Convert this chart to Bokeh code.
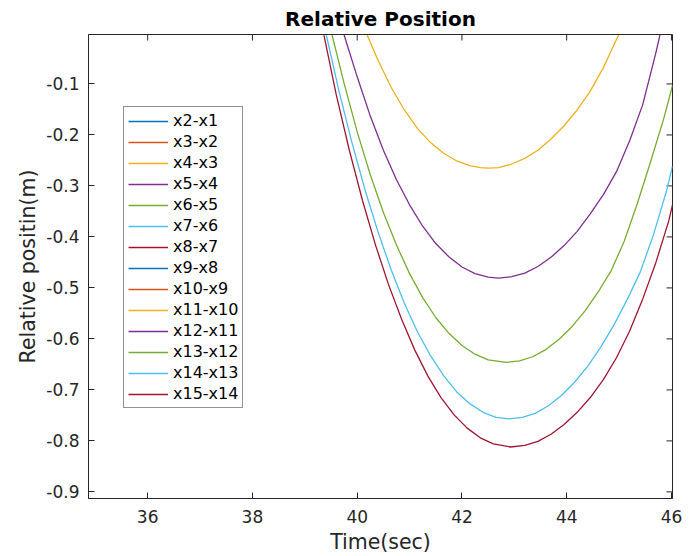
from bokeh.plotting import figure
from bokeh.models import (Range1d, FixedTicker, Legend, LegendItem, NumeralTickFormatter)
from bokeh.embed import file_html
from bokeh.resources import INLINE

# ---- data ----
series_names = ["x2-x1", "x3-x2", "x4-x3", "x5-x4", "x6-x5", "x7-x6", "x8-x7",
                "x9-x8", "x10-x9", "x11-x10", "x12-x11", "x13-x12", "x14-x13", "x15-x14"]
series_colors = ["#0072BD", "#D95319", "#EDB120", "#7E2F8E", "#77AC30", "#4DBEEE", "#A2142F",
                 "#0072BD", "#D95319", "#EDB120", "#7E2F8E", "#77AC30", "#4DBEEE", "#A2142F"]

t_x4_x3 = [40.19, 40.4, 40.65, 40.9, 41.15, 41.4, 41.65, 41.9, 42.15, 42.35, 42.51,
           42.7, 42.95, 43.2, 43.45, 43.7, 43.95, 44.2, 44.45, 44.7, 44.99]
v_x4_x3 = [-0.004, -0.054, -0.107, -0.151, -0.187, -0.215, -0.236, -0.251, -0.26, -0.264, -0.265,
           -0.264, -0.257, -0.246, -0.23, -0.208, -0.182, -0.151, -0.114, -0.068, -0.004]

t_x5_x4 = [39.75, 40.0, 40.25, 40.5, 40.75, 41.0, 41.25, 41.5, 41.75, 42.0, 42.25, 42.5, 42.7,
           42.95, 43.2, 43.45, 43.7, 43.95, 44.2, 44.45, 44.7, 44.95, 45.2, 45.45, 45.7, 45.78]
v_x5_x4 = [-0.004, -0.086, -0.163, -0.23, -0.288, -0.337, -0.379, -0.413, -0.439, -0.459, -0.472, -0.479, -0.481,
           -0.478, -0.471, -0.458, -0.44, -0.417, -0.389, -0.355, -0.317, -0.272, -0.212, -0.141, -0.04, -0.004]

t_x6_x5 = [39.52, 39.75, 40.0, 40.25, 40.5, 40.75, 41.0, 41.25, 41.5, 41.75, 42.0, 42.25, 42.5, 42.85,
           43.1, 43.35, 43.6, 43.85, 44.1, 44.35, 44.6, 44.85, 45.1, 45.35, 45.6, 45.85, 46.02]
v_x6_x5 = [-0.004, -0.099, -0.194, -0.278, -0.352, -0.416, -0.472, -0.519, -0.558, -0.589, -0.613, -0.63, -0.641, -0.646,
           -0.643, -0.635, -0.621, -0.601, -0.576, -0.545, -0.508, -0.466, -0.408, -0.334, -0.253, -0.169, -0.103]

t_x7_x6 = [39.41, 39.65, 39.9, 40.15, 40.4, 40.65, 40.9, 41.15, 41.4, 41.65, 41.9, 42.15, 42.4, 42.65, 42.9,
           43.15, 43.4, 43.65, 43.9, 44.15, 44.4, 44.65, 44.9, 45.15, 45.4, 45.65, 45.9, 46.02]
v_x7_x6 = [-0.004, -0.113, -0.215, -0.308, -0.391, -0.465, -0.53, -0.586, -0.633, -0.672, -0.704, -0.727, -0.744, -0.754, -0.757,
           -0.754, -0.746, -0.731, -0.711, -0.685, -0.654, -0.616, -0.573, -0.524, -0.47, -0.398, -0.312, -0.261]

t_x8_x7 = [39.365, 39.6, 39.85, 40.1, 40.35, 40.6, 40.85, 41.1, 41.35, 41.6, 41.85, 42.1, 42.35, 42.6, 42.93,
           43.2, 43.45, 43.7, 43.95, 44.2, 44.45, 44.7, 44.95, 45.2, 45.45, 45.7, 45.95, 46.02]
v_x8_x7 = [-0.004, -0.121, -0.23, -0.328, -0.416, -0.494, -0.562, -0.622, -0.673, -0.715, -0.749, -0.775, -0.794, -0.806, -0.812,
           -0.809, -0.801, -0.787, -0.768, -0.744, -0.715, -0.68, -0.637, -0.585, -0.522, -0.451, -0.368, -0.337]

# series that do not show inside the visible window
hidden = [float("nan")]
series_t = [hidden, hidden, t_x4_x3, t_x5_x4, t_x6_x5, t_x7_x6, t_x8_x7,
            hidden, hidden, hidden, hidden, hidden, hidden, hidden]
series_v = [hidden, hidden, v_x4_x3, v_x5_x4, v_x6_x5, v_x7_x6, v_x8_x7,
            hidden, hidden, hidden, hidden, hidden, hidden, hidden]

x_ticks = [36, 38, 40, 42, 44, 46]
y_ticks = [-0.9, -0.8, -0.7, -0.6, -0.5, -0.4, -0.3, -0.2, -0.1]
x_lim = (34.87, 46.02)
y_lim = (-0.913, -0.003)

AX = "#262626"
FONT = "DejaVu Sans"
FRAME_W, FRAME_H = 584, 464

p = figure(width=693, height=556, output_backend="svg", toolbar_location=None,
           x_range=Range1d(*x_lim), y_range=Range1d(*y_lim),
           min_border_left=88, min_border_right=21, min_border_top=34, min_border_bottom=58,
           title="Relative Position")
p.grid.visible = False
p.outline_line_color = AX
p.background_fill_color = "white"
p.border_fill_color = "white"

p.title.text_font = FONT
p.title.text_font_size = "20px"
p.title.text_font_style = "bold"
p.title.text_color = "black"
p.title.align = "center"
p.title.standoff = 7

for ax in (p.xaxis[0], p.yaxis[0]):
    ax.axis_line_color = AX
    ax.major_tick_line_color = AX
    ax.major_tick_in = 6
    ax.major_tick_out = 0
    ax.minor_tick_in = 0
    ax.minor_tick_out = 0
    ax.major_label_text_font = FONT
    ax.major_label_text_font_size = "17px"
    ax.major_label_text_color = AX
    ax.axis_label_text_font = FONT
    ax.axis_label_text_font_size = "20.5px"
    ax.axis_label_text_color = AX
    ax.axis_label_text_font_style = "normal"

p.xaxis.ticker = FixedTicker(ticks=x_ticks)
p.yaxis.ticker = FixedTicker(ticks=y_ticks)
p.yaxis.formatter = NumeralTickFormatter(format="0.0")
p.xaxis.axis_label = "Time(sec)"
p.yaxis.axis_label = "Relative positin(m)"
p.xaxis.major_label_standoff = 11
p.yaxis.major_label_standoff = 9
p.xaxis.axis_label_standoff = 4
p.yaxis.axis_label_standoff = 3

# box ticks on the top and right edges (inward, 6px long)
tick_dx = 6 / FRAME_W * (x_lim[1] - x_lim[0])
tick_dy = 6 / FRAME_H * (y_lim[1] - y_lim[0])
p.segment(x0=x_ticks, y0=[y_lim[1]] * len(x_ticks), x1=x_ticks,
          y1=[y_lim[1] - tick_dy] * len(x_ticks), line_color=AX, line_width=1)
p.segment(x0=[x_lim[1]] * len(y_ticks), y0=y_ticks, x1=[x_lim[1] - tick_dx] * len(y_ticks),
          y1=y_ticks, line_color=AX, line_width=1)

items = []
for name, col, tt, vv in zip(series_names, series_colors, series_t, series_v):
    r = p.line(tt, vv, line_color=col, line_width=1.3)
    items.append(LegendItem(label=name, renderers=[r]))

legend = Legend(items=items, location=(35, 90))
legend.label_text_font = FONT
legend.label_text_font_size = "16px"
legend.label_text_color = "#000000"
legend.glyph_width = 40
legend.glyph_height = 18
legend.label_height = 18
legend.label_standoff = 5
legend.spacing = 2
legend.padding = 4
legend.margin = 0
legend.border_line_color = AX
legend.border_line_width = 1
legend.background_fill_color = "white"
legend.background_fill_alpha = 1
p.add_layout(legend, "center")

open("out.html", "w").write(file_html(p, INLINE))
